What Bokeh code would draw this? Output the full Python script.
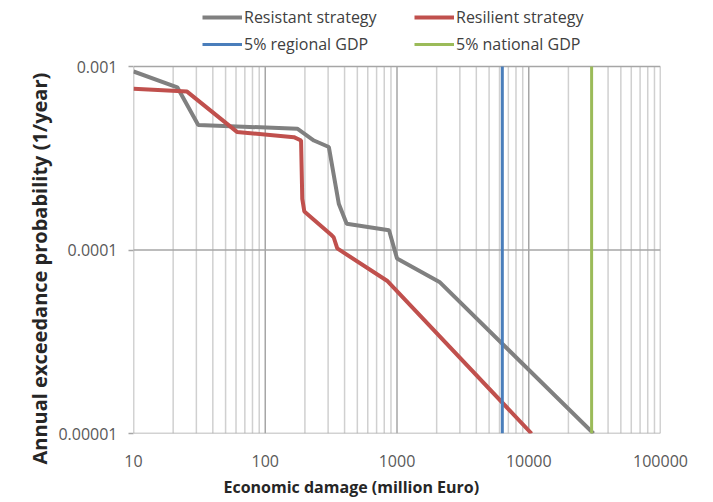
from bokeh.plotting import figure
from bokeh.models import (Legend, LegendItem, FixedTicker, CustomJSTickFormatter,
                          Range1d, Title)
from bokeh.embed import file_html
from bokeh.resources import INLINE

# ---- data ----
RESISTANT_X = [10, 21.5, 31, 175, 234, 304, 362, 415, 870, 1000, 2100, 31000]
RESISTANT_Y = [9.4e-4, 7.7e-4, 4.8e-4, 4.58e-4, 3.95e-4, 3.64e-4, 1.78e-4, 1.39e-4,
               1.28e-4, 9.0e-5, 6.7e-5, 1.0e-5]

RESILIENT_X = [10, 25.5, 61, 165, 187, 191, 198, 313, 331, 352, 840, 10500]
RESILIENT_Y = [7.56e-4, 7.3e-4, 4.4e-4, 4.12e-4, 3.95e-4, 1.9e-4, 1.62e-4, 1.22e-4,
               1.17e-4, 1.02e-4, 6.8e-5, 1.0e-5]

REGIONAL_GDP = 6300
NATIONAL_GDP = 30000

X_TICKS = [10, 100, 1000, 10000, 100000]
X_TICK_LABELS = ["10", "100", "1000", "10000", "100000"]
Y_TICKS = [1e-5, 1e-4, 1e-3]
Y_TICK_LABELS = ["0.00001", "0.0001", "0.001"]

SERIES_NAMES = ["Resistant strategy", "Resilient strategy", "5% regional GDP", "5% national GDP"]
X_TITLE = "Economic damage (million Euro)"
Y_TITLE = "Annual  exceedance probability (1/year)"

X_MIN, X_MAX = 10, 100000
Y_MIN, Y_MAX = 1e-5, 1e-3

FONT = "Open Sans"

# ---- layout (pixels) ----
W, H = 705, 502
LEFT, RIGHT, TOP, BOTTOM = 133, 45, 4, 69     # frame borders
DATA_TOP_PX = 66                               # where 0.001 sits
LEGEND_BOTTOM_PX = 55
frame_bottom = H - BOTTOM
px_per_decade = (frame_bottom - DATA_TOP_PX) / 2.0
y_top = Y_MAX * 10 ** ((DATA_TOP_PX - TOP) / px_per_decade)   # room for the legend

p = figure(width=W, height=H, x_axis_type="log", y_axis_type="log",
           x_range=Range1d(X_MIN, X_MAX), y_range=Range1d(Y_MIN, y_top),
           output_backend="svg", toolbar_location=None,
           min_border_left=LEFT, min_border_right=RIGHT, min_border_top=TOP,
           min_border_bottom=BOTTOM)
p.background_fill_color = "white"
p.border_fill_color = "white"
p.outline_line_color = None
p.xgrid.visible = False
p.ygrid.visible = False

# ---- grid drawn only over the data area ----
x_minor = [m * 10 ** k for k in range(1, 5) for m in range(2, 10)]
p.segment(x0=x_minor, y0=[Y_MIN] * len(x_minor), x1=x_minor, y1=[Y_MAX] * len(x_minor),
          line_color="#d0d0d0", line_width=1.5)
p.segment(x0=X_TICKS, y0=[Y_MIN] * len(X_TICKS), x1=X_TICKS, y1=[Y_MAX] * len(X_TICKS),
          line_color="#a6a6a6", line_width=1.5)
p.segment(x0=[X_MIN] * len(Y_TICKS), y0=Y_TICKS, x1=[X_MAX] * len(Y_TICKS), y1=Y_TICKS,
          line_color="#a6a6a6", line_width=1.5)

# ---- axes ----
p.xaxis.ticker = FixedTicker(ticks=X_TICKS, minor_ticks=[])
p.yaxis.ticker = FixedTicker(ticks=Y_TICKS, minor_ticks=[])

fmt_code = """
let best = 0, d = Infinity;
for (let i = 0; i < tv.length; i++) {
  const e = Math.abs(Math.log10(tv[i]) - Math.log10(tick));
  if (e < d) { d = e; best = i; }
}
return labels[best];
"""
p.xaxis.formatter = CustomJSTickFormatter(args=dict(tv=X_TICKS, labels=X_TICK_LABELS), code=fmt_code)
p.yaxis.formatter = CustomJSTickFormatter(args=dict(tv=Y_TICKS, labels=Y_TICK_LABELS), code=fmt_code)

for ax in (p.xaxis[0], p.yaxis[0]):
    ax.axis_line_color = None
    ax.major_tick_line_color = "#a6a6a6"
    ax.major_tick_line_width = 1.5
    ax.minor_tick_line_color = None
    ax.major_tick_in = 0
    ax.major_label_text_font = FONT
    ax.major_label_text_font_size = "16px"
    ax.major_label_text_color = "#595959"

p.xaxis.major_tick_out = 0
p.xaxis.major_label_standoff = 21
p.yaxis.major_tick_out = 5
p.yaxis.major_label_standoff = 11

# ---- series ----
r1 = p.line(RESISTANT_X, RESISTANT_Y, line_color="#808080", line_width=4)
r2 = p.line(RESILIENT_X, RESILIENT_Y, line_color="#c0504d", line_width=4)
r3 = p.line([REGIONAL_GDP, REGIONAL_GDP], [Y_MIN, Y_MAX], line_color="#4a7ebb", line_width=3)
r4 = p.line([NATIONAL_GDP, NATIONAL_GDP], [Y_MIN, Y_MAX], line_color="#9bbb59", line_width=3)

legend = Legend(items=[LegendItem(label=SERIES_NAMES[i], renderers=[r])
                       for i, r in enumerate([r1, r2, r3, r4])],
                location=(69, frame_bottom - LEGEND_BOTTOM_PX),
                orientation="horizontal", ncols=2)
legend.padding = 0
legend.margin = 0
legend.spacing = 5
legend.label_standoff = 2
legend.glyph_width = 40
legend.glyph_height = 20
legend.label_height = 20
legend.label_width = 165
legend.label_text_font = FONT
legend.label_text_font_size = "16px"
legend.label_text_color = "#404040"
legend.border_line_color = None
legend.background_fill_alpha = 0
p.add_layout(legend)

# ---- axis titles ----
xt = Title(text=X_TITLE, align="left", offset=90, text_font=FONT, text_font_size="16px",
           text_font_style="bold", text_color="#262626", standoff=9)
yt = Title(text=Y_TITLE, align="left", offset=-31, text_font=FONT, text_font_size="20px",
           text_font_style="bold", text_color="#262626", standoff=6)
p.add_layout(xt, "below")
p.add_layout(yt, "left")

open("out.html", "w").write(file_html(p, INLINE))
